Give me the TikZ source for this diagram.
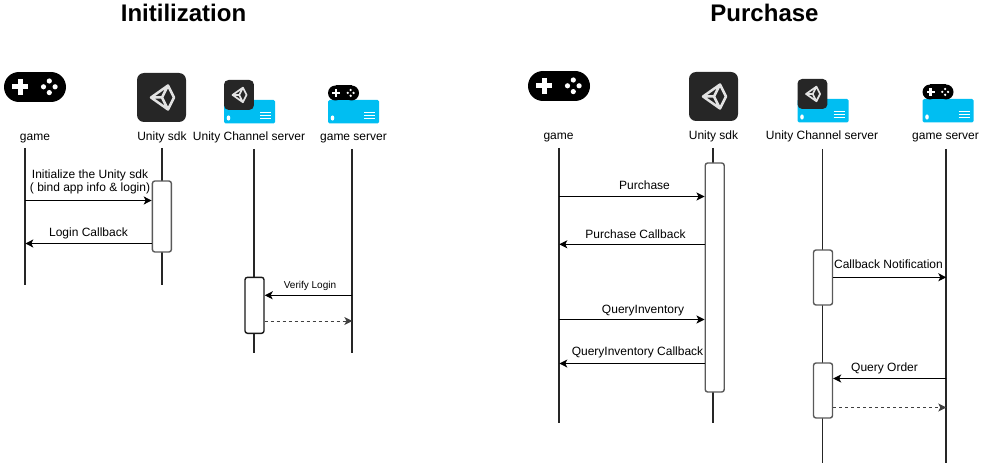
\documentclass[tikz,border=0pt]{standalone}
\usepackage{fontspec}
\setmainfont{Liberation Sans}
\usetikzlibrary{arrows.meta}

\definecolor{srvblue}{HTML}{00BEF2}
\definecolor{sdkdark}{HTML}{262626}
\definecolor{cubegray}{HTML}{E2E2E2}

\tikzset{
  lab/.style = {font=\fontsize{12}{14}\selectfont, inner sep=0pt, anchor=base},
  smalllab/.style = {font=\fontsize{10}{12}\selectfont, inner sep=0pt, anchor=base},
  titlelab/.style = {font=\fontsize{24}{28}\selectfont\bfseries, inner sep=0pt, anchor=base},
  life/.style = {draw=black!85, line width=1.9pt},
  msg/.style = {->, line width=1pt},
  bar/.style = {rectangle,
                draw = black!65,
                fill = white,
                line width = 1.4pt,
                rounded corners = 2.5pt,
                minimum width = 19pt,
                inner sep = 0pt},
  pics/gamepad/.style = {code = {
    \fill[black] (15,15) circle (15);
    \fill[black] (47,15) circle (15);
    \fill[black] (15,0) rectangle (47,30);
    \fill[white] (8,12.5) rectangle (24,17.5);
    \fill[white] (13.5,7) rectangle (18.5,23);
    \foreach \dx/\dy in {-5.8/0,5.8/0,0/-5.8,0/5.8}
      \fill[white] (45.3+\dx,14.8+\dy) circle (2.6);
  }},
  pics/unitybox/.style 2 args = {code = {
    \fill[sdkdark, rounded corners=#2] (0,0) rectangle (49,49);
    \draw[cubegray, line width=#1, line join=round]
      (14,24.5) -- (31,12.5) -- (37,24.5) -- (31,36.5) -- cycle
      (14,24.5) -- (25,24.5) -- (31,12.5) (25,24.5) -- (31,36.5);
  }},
  pics/server/.style = {code = {
    \fill[srvblue, rounded corners=1.5pt] (0,0) rectangle (51,23.5);
    \fill[white] (4.5,18) ellipse (1.8 and 2.6);
    \foreach \yy in {12.8,15.8,18.8}
      \draw[white, line width=1pt] (36,\yy) -- (47,\yy);
  }},
}

\begin{document}
\begin{tikzpicture}[x=1pt,y=-1pt,>={Stealth[length=8pt,width=8pt,inset=2pt]}]

    \useasboundingbox (0,0) rectangle (981,465);

    \node[titlelab] (titleinit) at (183.5,21.7) {Initilization};
    \node[titlelab] (titlebuy) at (764.5,21.7) {Purchase};

    %left icons
    \pic at (4,72) {gamepad};
    \pic at (137,73) {unitybox={2.5pt}{7pt}};
    \pic at (224,100) {server};
    \pic[scale=.61] at (224,80) {unitybox={1.7pt}{4.5pt}};
    \pic at (328,100) {server};
    \pic[scale=.5] at (328,85.5) {gamepad};

    \node[lab] (game) at (35,141) {game};
    \node[lab] (sdk) at (162,141) {Unity sdk};
    \node[lab] (chan) at (249,141) {Unity Channel server};
    \node[lab] (gsrv) at (353.5,141) {game server};

    %right icons
    \pic at (528,71) {gamepad};
    \pic at (689,72) {unitybox={2.5pt}{7pt}};
    \pic at (797.5,99) {server};
    \pic[scale=.61] at (797.5,79) {unitybox={1.7pt}{4.5pt}};
    \pic at (922.5,99) {server};
    \pic[scale=.5] at (922.5,84.5) {gamepad};

    \node[lab] (game2) at (558.5,140) {game};
    \node[lab] (sdk2) at (713.5,140) {Unity sdk};
    \node[lab] (chan2) at (822,140) {Unity Channel server};
    \node[lab] (gsrv2) at (945.5,140) {game server};

    %lifelines
    \coordinate (gameTop) at (25.3,148);    \coordinate (gameEnd) at (25.3,285);
    \coordinate (sdkTop) at (161.6,148);    \coordinate (sdkEnd) at (161.6,285);
    \coordinate (chanTop) at (254.3,149);   \coordinate (chanEnd) at (254.3,353);
    \coordinate (gsrvTop) at (352.4,149);   \coordinate (gsrvEnd) at (352.4,353);
    \coordinate (game2Top) at (559.3,148);  \coordinate (game2End) at (559.3,423);
    \coordinate (sdk2Top) at (713.3,148);   \coordinate (sdk2End) at (713.3,423);
    \coordinate (chan2Top) at (822.5,149);  \coordinate (chan2End) at (822.5,463);
    \coordinate (gsrv2Top) at (946.3,149);  \coordinate (gsrv2End) at (946.3,463);

    \path[life]
    (gameTop) edge (gameEnd)
    (sdkTop) edge (sdkEnd)
    (chanTop) edge (chanEnd)
    (gsrvTop) edge (gsrvEnd)
    (game2Top) edge (game2End)
    (sdk2Top) edge (sdk2End)
    (chan2Top) edge (chan2End)
    (gsrv2Top) edge (gsrv2End);

    %activation bars
    \node[bar, minimum height = 71pt] (sdkbar) at (161.9,216.5) {};
    \node[bar, draw = black!90, minimum height = 56pt] (chanbar) at (254.5,305.3) {};
    \node[bar, minimum height = 229pt] (sdk2bar) at (714.7,277.5) {};
    \node[bar, minimum height = 55pt] (cbbar) at (823,277.5) {};
    \node[bar, minimum height = 55pt] (qobar) at (823,390.5) {};

    %left messages
    \coordinate (m1) at (25.3,200.5);
    \coordinate (m2) at (25.3,243.5);
    \coordinate (m3) at (352.4,295.3);
    \coordinate (m4) at (352.4,321);
    \draw[msg] (m1) -- (sdkbar.west |- m1);
    \draw[msg] (sdkbar.west |- m2) -- (m2);
    \draw[msg] (m3) -- (chanbar.east |- m3);
    \draw[msg, dashed, draw=black!75] (chanbar.east |- m4) -- (m4);

    \node[lab] (m1a) at (90,178.3) {Initialize the Unity sdk};
    \node[lab] (m1b) at (90,191.7) {( bind app info \& login)};
    \node[lab] (m2a) at (88.5,236) {Login Callback};
    \node[smalllab] (m3a) at (310,288.7) {Verify Login};

    %right messages
    \coordinate (n1) at (559.3,196.5);
    \coordinate (n2) at (559.3,244.3);
    \coordinate (n3) at (559.3,319.5);
    \coordinate (n4) at (559.3,363.5);
    \coordinate (n5) at (946.3,277.3);
    \coordinate (n6) at (946.3,378.5);
    \coordinate (n7) at (946.3,407.5);
    \draw[msg] (n1) -- (sdk2bar.west |- n1);
    \draw[msg] (sdk2bar.west |- n2) -- (n2);
    \draw[msg] (n3) -- (sdk2bar.west |- n3);
    \draw[msg] (sdk2bar.west |- n4) -- (n4);
    \draw[msg] (cbbar.east |- n5) -- (n5);
    \draw[msg] (n6) -- (qobar.east |- n6);
    \draw[msg, dashed, draw=black!75] (qobar.east |- n7) -- (n7);

    \node[lab] (n1a) at (644.5,189.5) {Purchase};
    \node[lab] (n2a) at (635.5,238.7) {Purchase Callback};
    \node[lab] (n3a) at (643,313) {QueryInventory};
    \node[lab] (n4a) at (637.5,355) {QueryInventory Callback};
    \node[lab] (n5a) at (888.5,268.3) {Callback Notification};
    \node[lab] (n6a) at (884.5,371) {Query Order};

\end{tikzpicture}
\end{document}
